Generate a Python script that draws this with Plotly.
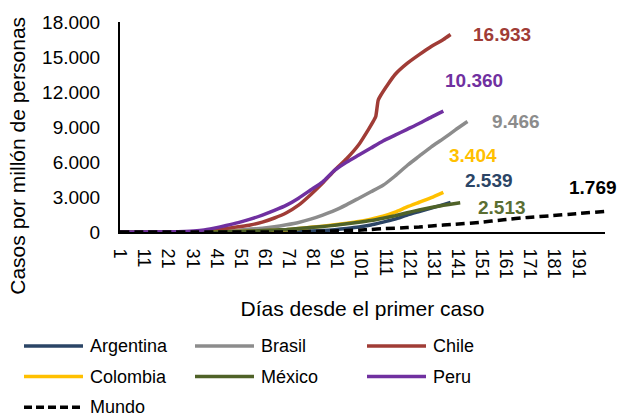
import plotly.graph_objects as go

# Casos acumulados por millón de personas, por día desde el primer caso
series_names = ["Argentina", "Brasil", "Chile", "Colombia", "México", "Peru", "Mundo"]

argentina_days = [1, 20, 40, 60, 70, 80, 85, 90, 95, 100, 105, 110, 115, 120, 125, 130, 135, 138]
argentina_vals = [0, 0, 5, 20, 40, 80, 120, 200, 300, 420, 600, 850, 1100, 1450, 1750, 2050, 2350, 2539]

brasil_days = [1, 20, 30, 40, 50, 55, 60, 65, 70, 75, 80, 85, 90, 95, 100, 105, 110, 115, 120, 125, 130, 135, 140, 145]
brasil_vals = [0, 0, 10, 50, 150, 250, 330, 450, 620, 820, 1100, 1450, 1850, 2350, 2900, 3450, 4000, 4800, 5700, 6500, 7300, 8000, 8750, 9466]

chile_days = [1, 25, 30, 35, 40, 45, 50, 55, 60, 65, 70, 75, 80, 85, 90, 95, 100, 104, 106, 107, 108, 109, 112, 115, 120, 125, 130, 135, 138]
chile_vals = [0, 0, 20, 50, 150, 300, 450, 600, 850, 1200, 1650, 2300, 3200, 4200, 5300, 6300, 7500, 8800, 9500, 9900, 11300, 11700, 12650, 13500, 14450, 15200, 15900, 16500, 16933]

colombia_days = [1, 30, 40, 50, 60, 70, 75, 80, 85, 90, 95, 100, 105, 110, 115, 120, 125, 130, 135]
colombia_vals = [0, 0, 10, 40, 100, 200, 300, 400, 500, 620, 750, 900, 1100, 1350, 1700, 2150, 2550, 2950, 3404]

mexico_days = [1, 30, 40, 50, 60, 70, 75, 80, 85, 90, 95, 100, 105, 110, 115, 120, 125, 130, 135, 142]
mexico_vals = [0, 0, 10, 50, 120, 220, 300, 380, 470, 580, 700, 830, 980, 1180, 1400, 1650, 1880, 2100, 2300, 2513]

peru_days = [1, 25, 30, 35, 40, 45, 50, 55, 60, 65, 70, 75, 80, 85, 90, 95, 100, 105, 110, 115, 120, 125, 130, 135]
peru_vals = [0, 20, 60, 150, 330, 550, 800, 1100, 1450, 1850, 2300, 2900, 3600, 4300, 5300, 6000, 6600, 7200, 7800, 8300, 8800, 9300, 9850, 10360]

mundo_days = [1, 60, 70, 80, 90, 100, 105, 110, 120, 125, 130, 140, 150, 160, 170, 180, 190, 202]
mundo_vals = [0, 0, 10, 40, 90, 160, 220, 280, 380, 430, 520, 660, 830, 1050, 1250, 1400, 1570, 1769]

y_ticks = [0, 3000, 6000, 9000, 12000, 15000, 18000]
x_ticks = list(range(1, 192, 10))

days = [argentina_days, brasil_days, chile_days, colombia_days, mexico_days, peru_days, mundo_days]
vals = [argentina_vals, brasil_vals, chile_vals, colombia_vals, mexico_vals, peru_vals, mundo_vals]

colors = ["#2B4566", "#8C8C8C", "#A03C36", "#FFC000", "#4F6228", "#7030A0", "#000000"]
label_colors = ["#2B4566", "#8C8C8C", "#A03C36", "#FFC000", "#5A6E32", "#7030A0", "#000000"]
# offsets (px) of each end-value label from the end of its line
label_shift = [(12, 22), (23, 0), (20, 0), (4, 37), (16, -5), (0, 31), (-38, 24)]

FONT = "Liberation Sans, Arial, sans-serif"
W, H = 620, 418
ML, MR, MT, MB = 120, 15, 20, 186
PW, PH = W - ML - MR, H - MT - MB


def px_to_paper(px, py):
    return (px - ML) / PW, (H - MB - py) / PH


def dash_for(name):
    return "9px,5px" if name == "Mundo" else "solid"


fig = go.Figure()

for name, d, v, c in zip(series_names, days, vals, colors):
    fig.add_trace(go.Scatter(
        x=d, y=v, mode="lines", name=name,
        line=dict(color=c, width=3.5, dash=dash_for(name), shape="spline", smoothing=0.5),
        showlegend=False, hoverinfo="skip",
    ))

# value labels at the end of each line
for name, d, v, c, (dx, dy) in zip(series_names, days, vals, label_colors, label_shift):
    fig.add_annotation(
        x=d[-1], y=v[-1], xref="x", yref="y",
        text="<b>" + f"{v[-1]:,}".replace(",", ".") + "</b>",
        showarrow=False, xanchor="left", yanchor="middle",
        xshift=dx, yshift=dy,
        font=dict(family=FONT, size=19, color=c),
    )

# legend below the chart, three columns
col_x = [24, 195, 367]
row_y = [347, 378, 409]
sample_len = 59
for i, (name, c) in enumerate(zip(series_names, colors)):
    r, k = divmod(i, 3)
    x0, y0 = px_to_paper(col_x[k], row_y[r])
    x1, _ = px_to_paper(col_x[k] + sample_len, row_y[r])
    fig.add_shape(
        type="line", xref="paper", yref="paper",
        x0=x0, x1=x1, y0=y0, y1=y0,
        line=dict(color=c, width=3.5, dash="8px,4px" if name == "Mundo" else "solid"),
    )
    tx, ty = px_to_paper(col_x[k] + sample_len + 5, row_y[r])
    fig.add_annotation(
        x=tx, y=ty, xref="paper", yref="paper", text=name,
        showarrow=False, xanchor="left", yanchor="middle",
        font=dict(family=FONT, size=18, color="#000000"),
    )

# vertical axis title
tx, ty = px_to_paper(18, 155)
fig.add_annotation(
    x=tx, y=ty, xref="paper", yref="paper",
    text="Casos por millón de personas", textangle=-90,
    showarrow=False, xanchor="center", yanchor="middle",
    font=dict(family=FONT, size=21, color="#000000"),
)

fig.update_layout(
    width=W, height=H,
    margin=dict(l=ML, r=MR, t=MT, b=MB, pad=0),
    paper_bgcolor="white", plot_bgcolor="white",
    separators=",.",
    font=dict(family=FONT, color="#000000"),
    showlegend=False,
)

fig.update_xaxes(
    range=[1, 202], tickmode="array", tickvals=x_ticks,
    ticktext=[str(t) for t in x_ticks], tickangle=90,
    tickfont=dict(family=FONT, size=18, color="#000000"),
    ticklabelstandoff=11,
    showgrid=False, zeroline=False, showline=True,
    linecolor="#000000", linewidth=2, ticks="",
    title=dict(text="Días desde el primer caso", standoff=24,
               font=dict(family=FONT, size=21, color="#000000")),
)

fig.update_yaxes(
    range=[0, 18000], tickmode="array", tickvals=y_ticks,
    ticktext=[f"{t:,}".replace(",", ".") for t in y_ticks],
    tickfont=dict(family=FONT, size=19, color="#000000"),
    ticklabelstandoff=14,
    showgrid=False, zeroline=False, showline=True,
    linecolor="#000000", linewidth=2, ticks="",
)

fig.write_html("out.html")
